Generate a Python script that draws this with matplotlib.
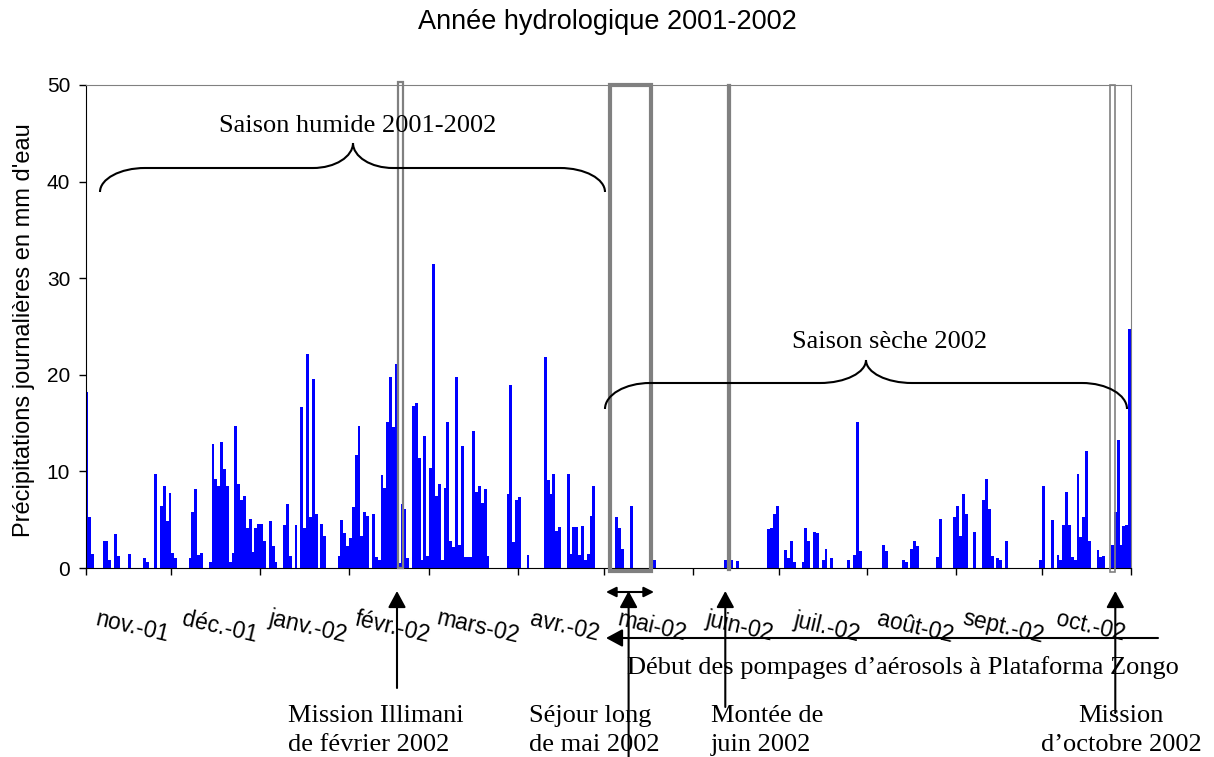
import numpy as np
import matplotlib
matplotlib.use('Agg')
import matplotlib.pyplot as plt
from matplotlib.patches import Rectangle, PathPatch
from matplotlib.path import Path

# daily rainfall (mm), one list per month
nov_01 = [18.2, 5.3, 1.5, 0, 0, 0, 2.8, 2.8, 0.8, 0, 3.5, 1.2, 0, 0, 0, 1.5, 0, 0, 0, 0,
          1.0, 0.6, 0, 0, 9.7, 0, 6.4, 8.5, 4.9, 7.8]
dec_01 = [1.6, 1.0, 0, 0, 0, 0, 1.0, 5.8, 8.2, 1.3, 1.6, 0, 0, 0.6, 12.8, 9.2, 8.5, 13.0, 10.3, 8.5,
          0.6, 1.6, 14.7, 8.7, 7.0, 7.5, 4.1, 5.1, 1.7, 4.1, 4.6]
jan_02 = [4.6, 2.8, 0, 4.9, 2.3, 0.6, 0, 0, 4.5, 6.6, 1.2, 0, 4.5, 0, 16.7, 4.1, 22.2, 5.3, 19.6, 5.6,
          0, 4.6, 3.3, 0, 0, 0, 0, 1.2, 5.0, 3.6, 2.3]
feb_02 = [3.1, 6.3, 11.7, 14.7, 3.3, 5.8, 5.4, 0, 5.6, 1.1, 0.8, 9.6, 8.3, 15.1, 19.8, 14.6, 21.1, 0.5,
          6.6, 6.1, 1.0, 0, 16.8, 17.1, 11.4, 0.8, 13.7, 1.2]
mar_02 = [10.4, 31.5, 7.5, 8.7, 0.8, 8.3, 15.1, 2.8, 2.2, 19.8, 2.4, 12.6, 1.1, 1.1, 1.1, 14.2, 7.9, 8.5,
          6.7, 8.2, 1.2, 0, 0, 0, 0, 0, 0, 7.7, 18.9, 2.7, 7.0]
apr_02 = [7.4, 0, 0, 1.3, 0, 0, 0, 0, 0, 21.8, 9.1, 7.7, 9.7, 3.8, 4.2, 0, 0, 9.7, 1.5, 4.2,
          4.2, 1.3, 4.3, 0.8, 1.5, 5.4, 8.5, 0, 0, 0]
may_02 = [0, 0, 0, 0, 5.3, 4.1, 2.0, 0, 0, 6.4, 0, 0, 0, 0, 0, 0, 1.1, 0.8, 0, 0,
          0, 0, 0, 0, 0, 0, 0, 0, 0, 0, 0]
jun_02 = [0, 0, 0, 0, 0, 0, 0, 0, 0, 0, 0, 0.8, 4.9, 0.8, 0, 0.7, 0, 0, 0, 0,
          0, 0, 0, 0, 0, 0, 4.0, 4.1, 5.6, 6.4]
jul_02 = [0, 0, 1.9, 1.0, 2.8, 0.6, 0, 0, 0.6, 4.1, 2.8, 0, 3.7, 3.6, 0, 0.8, 2.0, 0, 1.0, 0,
          0, 0, 0, 0, 0.8, 0, 1.3, 15.1, 1.8, 0, 0]
aug_02 = [0, 0, 0, 0, 0, 2.4, 1.8, 0, 0, 0, 0, 0, 0.8, 0.6, 0, 2.0, 2.8, 2.3, 0, 0,
          0, 0, 0, 0, 1.1, 5.1, 0, 0, 0, 0, 5.3]
sep_02 = [6.4, 3.3, 7.7, 5.6, 0, 0, 3.7, 0, 0, 7.0, 9.2, 6.1, 1.2, 0, 1.0, 0.8, 0, 2.8, 0, 0,
          0, 0, 0, 0, 0, 0, 0, 0, 0, 0.8]
oct_02 = [8.5, 0, 0, 5.0, 0, 1.3, 0.8, 4.5, 7.9, 4.5, 1.1, 0.8, 9.7, 3.2, 5.3, 12.1, 2.8, 0, 0, 1.9,
          1.1, 1.2, 0, 0, 2.4, 5.8, 13.3, 2.4, 4.3, 4.4, 24.7]

month_labels = ['nov.-01', 'déc.-01', 'janv.-02', 'févr.-02', 'mars-02', 'avr.-02',
                'mai-02', 'juin-02', 'juil.-02', 'août-02', 'sept.-02', 'oct.-02']
months = [nov_01, dec_01, jan_02, feb_02, mar_02, apr_02,
          may_02, jun_02, jul_02, aug_02, sep_02, oct_02]

rain = np.concatenate([np.array(m, dtype=float) for m in months])
days = np.arange(len(rain))
starts = np.cumsum([0] + [len(m) for m in months])

W, H = 1214, 757
SERIF = 'Liberation Serif'
SANS = 'Liberation Sans'
GREY = '#808080'


def fpos(px, py):
    # pixel position in the picture -> figure fraction
    return px / W, 1 - py / H


fig = plt.figure(figsize=(W / 100, H / 100), dpi=100)
ax = fig.add_axes([85.5 / W, 1 - 568 / H, (1131 - 85.5) / W, (568 - 85) / H])

ax.bar(days + 0.5, rain, width=1.0, color='#0000ff', linewidth=0, zorder=2)
ax.set_xlim(0, len(rain))
ax.set_ylim(0, 50)

ax.set_yticks(range(0, 51, 10))
ax.tick_params(axis='y', direction='out', length=5, width=1, pad=6, labelsize=15)
for t in ax.get_yticklabels():
    t.set_fontfamily(SANS)
ax.set_xticks(starts)
ax.set_xticklabels([])
ax.tick_params(axis='x', direction='out', length=5, width=1)

ax.spines['top'].set_color(GREY)
ax.spines['right'].set_color(GREY)
for s in ['left', 'bottom']:
    ax.spines[s].set_color('black')

# month names, slanted, under the middle of each month
for lab, s0, m in zip(month_labels, starts[:-1], months):
    ax.text(s0 + len(m) / 2 + 1.3, -0.122, lab, transform=ax.get_xaxis_transform(),
            ha='center', va='center', rotation=-13, rotation_mode='anchor',
            fontsize=16.5, family=SANS, clip_on=False)

# grey frames marking the field periods
frames = [(109.1, 1.7, 0.0, 50.3, 1.6),
          (183.0, 14.4, -0.35, 50.35, 3.0),
          (224.4, 0.5, -0.2, 50.2, 1.6),
          (357.8, 1.5, -0.4, 50.4, 1.2)]
for x0, w, y0, h, lw in frames:
    ax.add_patch(Rectangle((x0, y0), w, h, fill=False, ec=GREY, lw=lw,
                           clip_on=False, zorder=4))


def brace(x0, x1, xc, ye, yh, yt, r_end=45, r_mid=42):
    pts = [(x0, ye),
           (x0, ye - 0.55 * (ye - yh)), (x0 + 0.45 * r_end, yh), (x0 + r_end, yh),
           (xc - r_mid, yh),
           (xc - 0.45 * r_mid, yh), (xc, yt + 0.55 * (yh - yt)), (xc, yt),
           (xc, yt + 0.55 * (yh - yt)), (xc + 0.45 * r_mid, yh), (xc + r_mid, yh),
           (x1 - r_end, yh),
           (x1 - 0.45 * r_end, yh), (x1, ye - 0.55 * (ye - yh)), (x1, ye)]
    codes = [Path.MOVETO] + [Path.CURVE4] * 3 + [Path.LINETO] + [Path.CURVE4] * 6 + \
            [Path.LINETO] + [Path.CURVE4] * 3
    path = Path([fpos(x, y) for x, y in pts], codes)
    fig.add_artist(PathPatch(path, transform=fig.transFigure, fill=False, lw=1.5, color='black'))


brace(100, 605, 353, 192, 168, 143, r_mid=40)
brace(605, 1127, 866, 409, 383, 360, r_mid=46)

fig.text(*fpos(358, 131.5), 'Saison humide 2001-2002', ha='center', va='baseline',
         fontsize=19, family=SERIF)
fig.text(*fpos(890, 348), 'Saison sèche 2002', ha='center', va='baseline',
         fontsize=19, family=SERIF)

# arrows
big = dict(arrowstyle='-|>,head_length=0.5,head_width=0.27', lw=1.5, color='black',
           mutation_scale=20, shrinkA=0, shrinkB=0)
small = dict(arrowstyle='<|-|>,head_length=0.4,head_width=0.2', lw=1.5, color='black',
             mutation_scale=15, shrinkA=0, shrinkB=0)
for x, tail in [(397, 688), (628.6, 757), (725.3, 707), (1115.3, 713)]:
    ax.annotate('', xy=fpos(x, 591), xytext=fpos(x, tail), xycoords='figure fraction',
                arrowprops=big, annotation_clip=False)
ax.annotate('', xy=fpos(606, 592), xytext=fpos(654, 592), xycoords='figure fraction',
            arrowprops=small, annotation_clip=False)
ax.annotate('', xy=fpos(606, 638), xytext=fpos(1158, 638), xycoords='figure fraction',
            arrowprops=big, annotation_clip=False)

fig.text(*fpos(903, 674), 'Début des pompages d’aérosols à Plataforma Zongo',
         ha='center', va='baseline', fontsize=19, family=SERIF)

notes = [(288, 'left', 'Mission Illimani', 'de février 2002'),
         (529, 'left', 'Séjour long', 'de mai 2002'),
         (711, 'left', 'Montée de', 'juin 2002'),
         (1121, 'center', 'Mission', 'd’octobre 2002')]
for x, ha, l1, l2 in notes:
    fig.text(*fpos(x, 722), l1, ha=ha, va='baseline', fontsize=19, family=SERIF)
    fig.text(*fpos(x, 751), l2, ha=ha, va='baseline', fontsize=19, family=SERIF)

fig.text(*fpos(607, 29), 'Année hydrologique 2001-2002', ha='center', va='baseline',
         fontsize=19.5, family=SANS)
fig.text(*fpos(24, 330), "Précipitations journalières en mm d'eau", ha='center', va='center',
         rotation=90, fontsize=17, family=SANS)

fig.savefig('out.png', dpi=100)
